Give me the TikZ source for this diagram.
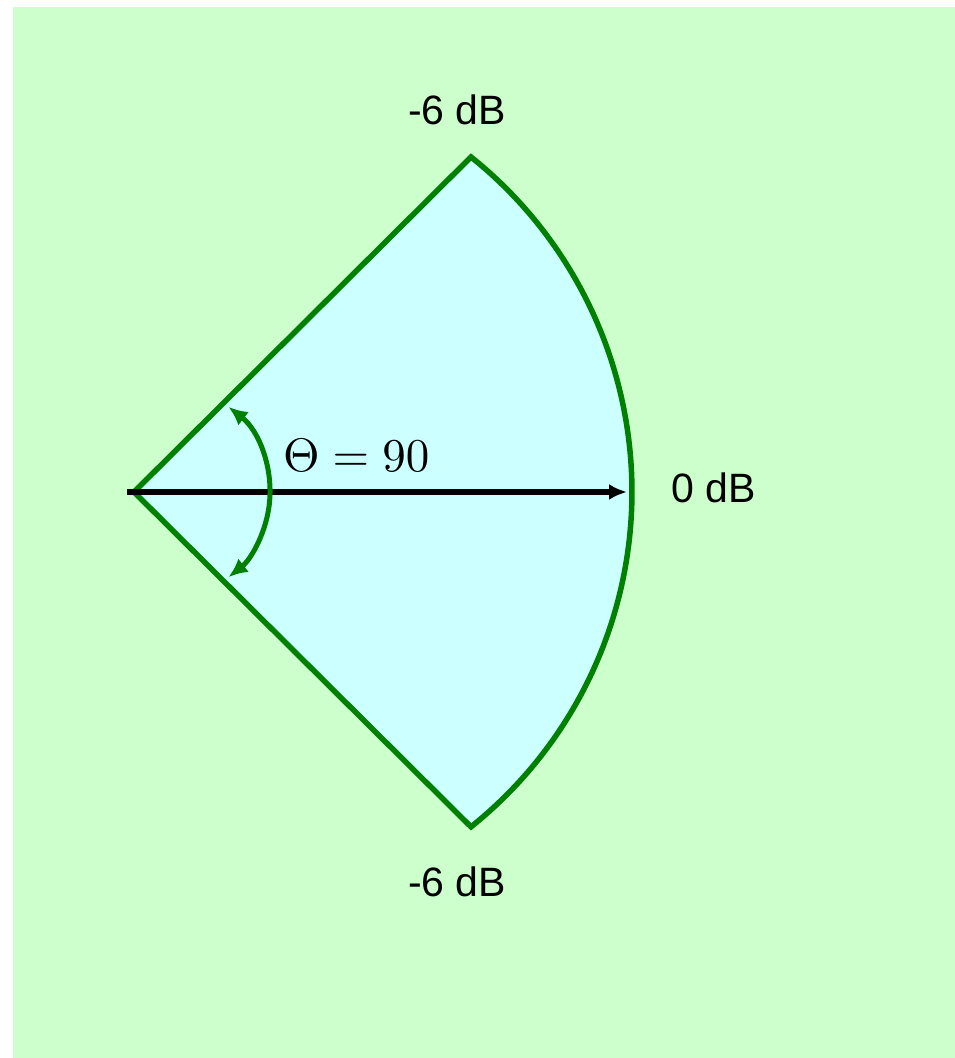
\documentclass[tikz,border=0pt]{standalone}
\usepackage{graphicx}
\usepackage{fontspec}
\newfontfamily\labelfont{Liberation Sans}
\usetikzlibrary{arrows.meta}
\definecolor{bgreen}{RGB}{204,255,204}
\definecolor{sectorfill}{RGB}{204,255,255}
\definecolor{edgegreen}{RGB}{0,128,0}
\tikzset{
  dblabel/.style={inner sep=0pt, font=\labelfont\fontsize{41}{46}\selectfont},
  sectoredge/.style={draw=edgegreen, line width=5.5pt, line join=miter, fill=sectorfill},
  axisarrow/.style={draw=black, line width=6pt, -{Latex[length=18pt,width=16pt]}},
  anglearrow/.style={draw=edgegreen, line width=5pt, {Latex[length=19pt,width=17pt]}-{Latex[length=19pt,width=17pt]}}
}
\begin{document}
\begin{tikzpicture}[x=1pt,y=1pt]
\useasboundingbox (0,0) rectangle (955,1058);
\fill[bgreen] (13,0) rectangle (955,1051);
\coordinate (apex) at (134,566);
\coordinate (top) at (471,901);
\coordinate (bot) at (471,231);
\coordinate (tail) at (127,566);
\coordinate (tip) at (627,566);
\path[sectoredge] (apex) -- (top) arc[start angle=51.33, end angle=-51.33, radius=429pt] -- cycle;
\draw[axisarrow] (tail) -- (tip);
\coordinate (a1) at ({162+108*cos(52)},{566+108*sin(52)});
\draw[anglearrow] (a1) arc[start angle=52, end angle=-52, radius=108pt];
\node[inner sep=0pt, anchor=base west] (theta) at (283,586) {\scalebox{4.7}{$\Theta = 90$}};
\node[dblabel, anchor=base west] (zero) at (671,555) {0 dB};
\node[dblabel, anchor=base] (mtop) at (457,933) {-6 dB};
\node[dblabel, anchor=base] (mbot) at (457,161) {-6 dB};
\end{tikzpicture}
\end{document}
